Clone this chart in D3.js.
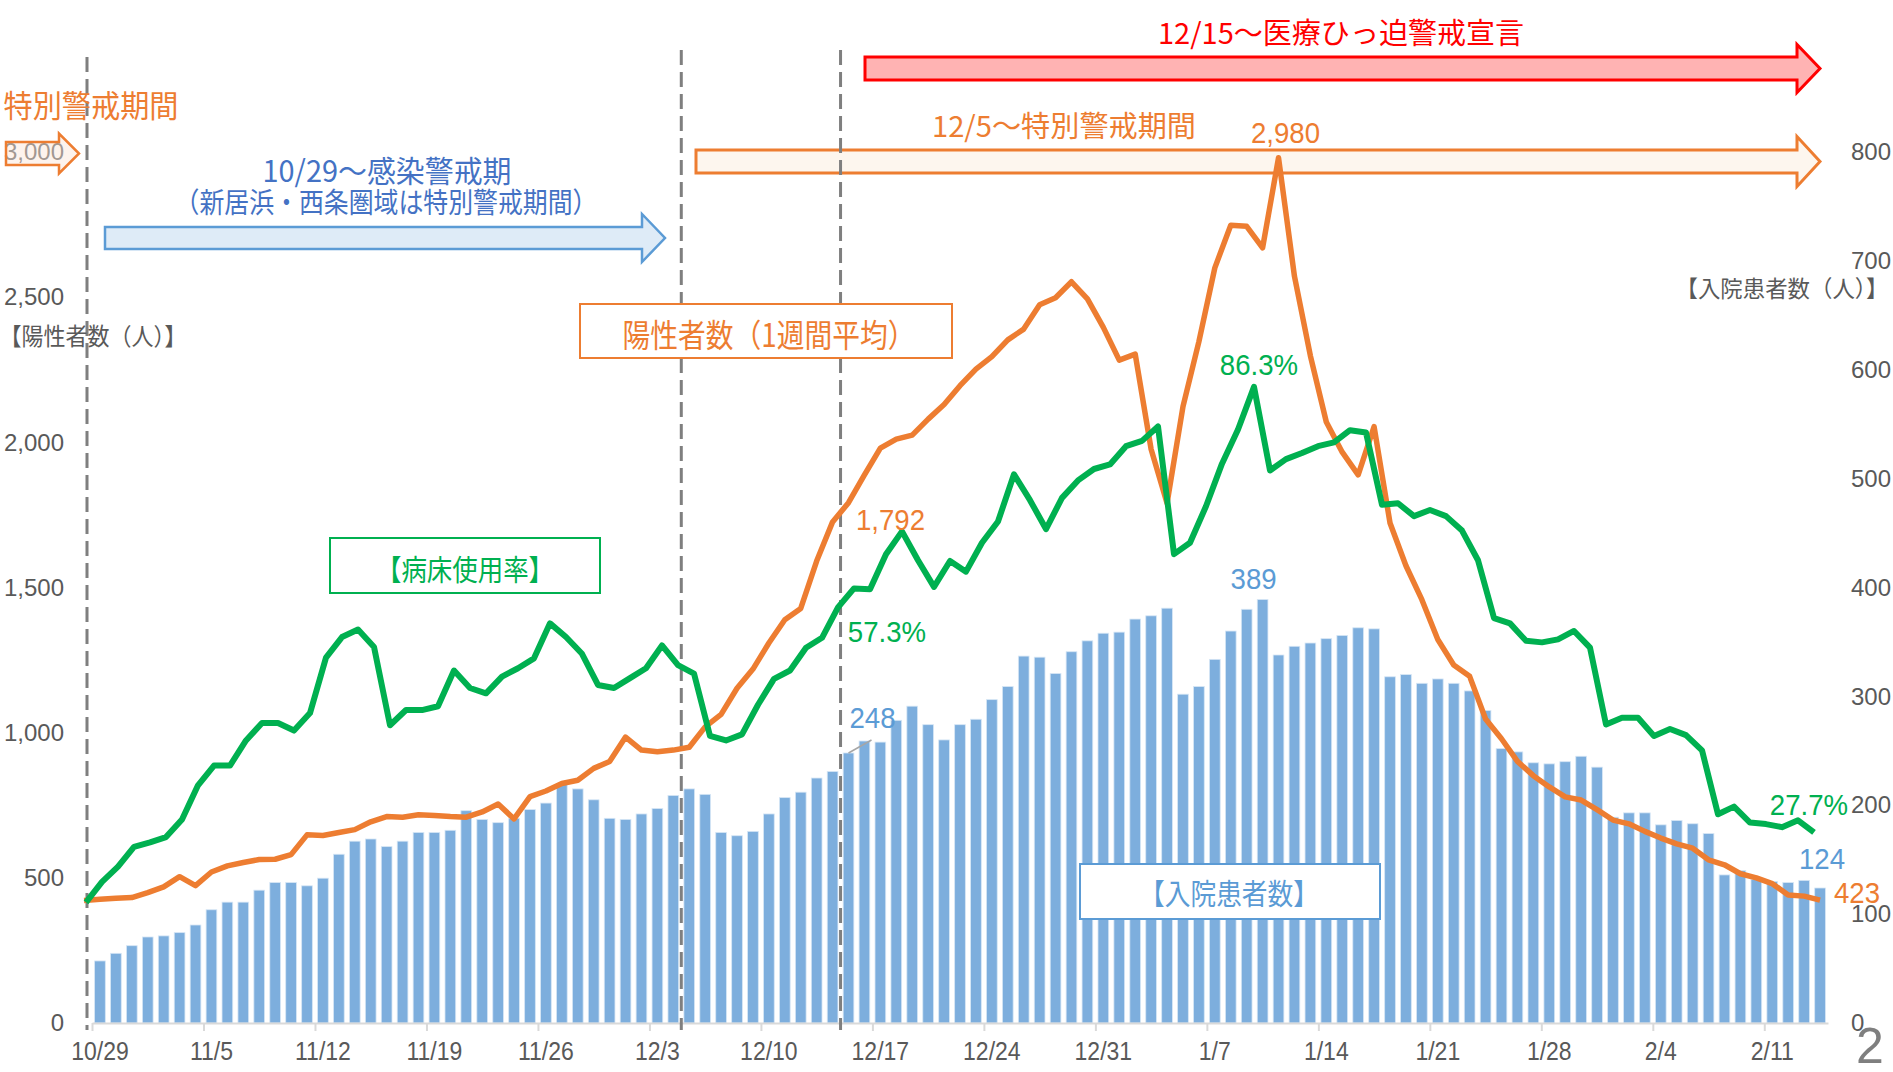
<!DOCTYPE html>
<html><head><meta charset="utf-8">
<title>陽性者数・入院患者数・病床使用率</title>
<script src="https://cdn.jsdelivr.net/npm/d3@7"></script>
<style>
  body { margin: 0; background: #fff; }
  svg { display: block; font-family: "Liberation Sans", "Noto Sans CJK JP", sans-serif; }
  .jp { font-family: "Noto Sans CJK JP", sans-serif; }
</style>
</head>
<body>
<svg id="chart" width="1893" height="1072"></svg>

<script>
// ---- data ----
var DAY = 864e5;
var firstDay = Date.UTC(2020, 9, 29);   // 10/29
var lastDay  = Date.UTC(2021, 1, 14);   // 2/14

var tickLabels = ["10/29","11/5","11/12","11/19","11/26","12/3","12/10","12/17",
                  "12/24","12/31","1/7","1/14","1/21","1/28","2/4","2/11"];

// 入院患者数 (right axis), 10/29 .. 2/14
var inpatients = [
  57, 64, 71, 79, 80, 83, 90, 104, 111, 111,
  122, 129, 129, 126, 133, 155, 167, 169, 162, 167,
  175, 175, 177, 195, 187, 184, 188, 196, 202, 219,
  215, 205, 188, 187, 192, 197, 209, 215, 210, 175,
  172, 176, 192, 207, 212, 225, 231, 248, 259, 258,
  278, 291, 274, 260, 274, 279, 297, 309, 337, 336,
  321, 341, 351, 358, 359, 371, 374, 381, 302, 309,
  334, 360, 380, 389, 338, 346, 349, 353, 356, 363,
  362, 318, 320, 312, 316, 312, 305, 287, 252, 249,
  239, 238, 240, 245, 235, 189, 193, 193, 182, 186,
  183, 174, 136, 140, 132, 130, 129, 131, 124
];

// 陽性者数（1週間平均） (left axis), 10/28 .. 2/14
var positives = [
  422, 426, 430, 432, 449, 469, 504, 473, 520, 541,
  553, 563, 564, 580, 648, 646, 656, 666, 693, 711,
  709, 717, 715, 711, 709, 727, 754, 703, 780, 799,
  825, 836, 877, 901, 985, 940, 934, 940, 950, 1020,
  1063, 1153, 1219, 1309, 1389, 1428, 1591, 1726, 1792, 1888,
  1980, 2011, 2025, 2080, 2130, 2195, 2252, 2295, 2353, 2390,
  2474, 2498, 2553, 2494, 2396, 2283, 2304, 1976, 1790, 2123,
  2347, 2601, 2748, 2744, 2670, 2980, 2572, 2298, 2070, 1966,
  1888, 2054, 1722, 1575, 1458, 1321, 1233, 1194, 1047, 979,
  901, 852, 813, 779, 768, 735, 699, 686, 660, 637,
  617, 602, 562, 545, 514, 500, 480, 441, 437, 423
];

// 病床使用率 (%), 10/29 .. 2/14
var bedRate = [
  18.5, 21.2, 23.2, 25.8, 26.4, 27.1, 29.4, 33.9, 36.5, 36.5,
  39.8, 42.1, 42.1, 41.1, 43.4, 50.7, 53.4, 54.4, 52.1, 41.8,
  43.8, 43.8, 44.3, 49.0, 46.7, 46.0, 48.2, 49.3, 50.6, 55.2,
  53.4, 51.2, 47.1, 46.7, 48.0, 49.3, 52.3, 49.7, 48.6, 40.4,
  39.8, 40.6, 44.5, 47.9, 49.0, 52.0, 53.3, 57.3, 59.8, 59.7,
  64.3, 67.3, 63.5, 60.0, 63.4, 62.0, 65.8, 68.6, 74.8, 71.4,
  67.6, 71.7, 74.0, 75.5, 76.1, 78.5, 79.2, 81.1, 64.3, 65.8,
  70.6, 76.2, 80.7, 86.3, 75.3, 76.8, 77.6, 78.5, 79.0, 80.6,
  80.3, 70.8, 71.0, 69.3, 70.1, 69.3, 67.4, 63.5, 55.9, 55.2,
  52.9, 52.7, 53.1, 54.2, 52.0, 41.9, 42.8, 42.8, 40.4, 41.3,
  40.5, 38.5, 30.1, 31.1, 29.0, 28.8, 28.4, 29.3, 27.7
];

var leftTicks  = [0, 500, 1000, 1500, 2000, 2500, 3000];
var rightTicks = [0, 100, 200, 300, 400, 500, 600, 700, 800];

// ---- layout ----
var plotLeft = 92, plotRight = 1828, plotTop = 152, plotBottom = 1023;
var svg = d3.select("#chart");

var days    = d3.utcDay.range(new Date(firstDay), new Date(lastDay + 1));
var posDays = d3.utcDay.range(new Date(firstDay - DAY), new Date(lastDay + 1));

var x = d3.scaleUtc()
  .domain([new Date(firstDay - DAY / 2), new Date(lastDay + DAY / 2)])
  .range([plotLeft, plotRight]);
var yL = d3.scaleLinear().domain([0, 3000]).range([plotBottom, plotTop]);
var yR = d3.scaleLinear().domain([0, 800]).range([plotBottom, plotTop]);
// 病床使用率 is a separate overlay with its own frame
var gx = d3.scaleUtc().domain([new Date(firstDay), new Date(lastDay)]).range([86, 1814]);
var gy = d3.scaleLinear().domain([0, 100]).range([1043.1, 282.7]);

var barW = 10.7;

function blockArrow(x0, xb, xt, yc, bh, hh) {
  var p = d3.path();
  p.moveTo(x0, yc - bh / 2);
  p.lineTo(xb, yc - bh / 2);
  p.lineTo(xb, yc - hh / 2);
  p.lineTo(xt, yc);
  p.lineTo(xb, yc + hh / 2);
  p.lineTo(xb, yc + bh / 2);
  p.lineTo(x0, yc + bh / 2);
  p.closePath();
  return p.toString();
}

function jtext(str, cx, cy, size, color, width) {
  return svg.append("text").attr("class", "jp")
    .attr("x", cx).attr("y", cy)
    .attr("text-anchor", "middle").attr("dominant-baseline", "central")
    .attr("font-size", size).attr("fill", color)
    .attr("textLength", width).attr("lengthAdjust", "spacingAndGlyphs")
    .text(str);
}

function squeeze(sel, k) {
  sel.each(function() {
    var w = this.getComputedTextLength();
    d3.select(this).attr("textLength", w * k).attr("lengthAdjust", "spacingAndGlyphs");
  });
}

// ---- axes ----
var yAxisL = svg.append("g").attr("transform", "translate(64,0)")
  .call(d3.axisLeft(yL).tickValues(leftTicks).tickFormat(d3.format(",")).tickSize(0).tickPadding(0));
var yAxisR = svg.append("g").attr("transform", "translate(1851,0)")
  .call(d3.axisRight(yR).tickValues(rightTicks).tickSize(0).tickPadding(0));
[yAxisL, yAxisR].forEach(function(a) {
  a.select(".domain").remove();
  a.selectAll("text").attr("fill", "#595959").attr("font-size", 24)
    .attr("font-family", "Liberation Sans, sans-serif");
});

// bars
svg.append("g").selectAll("rect").data(inpatients).join("rect")
  .attr("x", function(d, i) { return x(days[i]) - barW / 2; })
  .attr("width", barW)
  .attr("y", function(d) { return yR(d); })
  .attr("height", function(d) { return plotBottom - yR(d); })
  .attr("fill", "#7DAEDD")
  .attr("stroke", "#D6E6F5").attr("stroke-width", 0.8);

// x axis line and week tick marks
var weekStarts = tickLabels.map(function(t, j) { return new Date(+days[j * 7] - DAY / 2); });
var xAxis = svg.append("g").attr("transform", "translate(0," + plotBottom + ")")
  .call(d3.axisBottom(x).tickValues(weekStarts).tickFormat("").tickSize(8).tickSizeOuter(0));
xAxis.select(".domain").attr("stroke", "#D9D9D9").attr("stroke-width", 2);
xAxis.selectAll(".tick line").attr("stroke", "#D9D9D9").attr("stroke-width", 2);

var xl = svg.append("g").selectAll("text").data(tickLabels).join("text")
  .attr("x", function(d, j) { return x(days[j * 7]); })
  .attr("y", 1051)
  .attr("text-anchor", "middle").attr("dominant-baseline", "central")
  .attr("font-size", 25).attr("fill", "#595959")
  .text(function(d) { return d; });
squeeze(xl, 0.92);

// ---- period arrows ----
svg.append("path").attr("d", blockArrow(865, 1797, 1820, 68.5, 23, 48))
  .attr("fill", "#FFB3B3").attr("stroke", "#FF0000").attr("stroke-width", 3);
svg.append("path").attr("d", blockArrow(696, 1797, 1820, 161.5, 23, 50))
  .attr("fill", "#FDF6EE").attr("stroke", "#ED7D31").attr("stroke-width", 3);
svg.append("path").attr("d", blockArrow(105, 642, 665, 238, 22, 48))
  .attr("fill", "#DEEBF7").attr("stroke", "#5B9BD5").attr("stroke-width", 2.5);
svg.append("path").attr("d", blockArrow(6, 59, 79, 153.5, 23, 40))
  .attr("fill", "#FBE5D6").attr("fill-opacity", 0.45)
  .attr("stroke", "#ED7D31").attr("stroke-width", 2.5);

// ---- dashed period lines ----
var periodLines = [
  { d: new Date(firstDay - DAY / 2), y0: 57, dx: -5 },
  { d: new Date(Date.UTC(2020, 11, 5) - DAY / 2), y0: 50, dx: 0 },
  { d: new Date(Date.UTC(2020, 11, 15) - DAY / 2), y0: 50, dx: 0 }
];
svg.append("g").selectAll("line").data(periodLines).join("line")
  .attr("x1", function(d) { return x(d.d) + d.dx; })
  .attr("x2", function(d) { return x(d.d) + d.dx; })
  .attr("y1", function(d) { return d.y0; })
  .attr("y2", 1030)
  .attr("stroke", "#7F7F7F").attr("stroke-width", 3)
  .attr("stroke-dasharray", "15,7");

// ---- lines ----
svg.append("path").datum(positives)
  .attr("fill", "none").attr("stroke", "#ED7D31").attr("stroke-width", 5.5)
  .attr("stroke-linejoin", "round")
  .attr("d", d3.line().x(function(d, i) { return x(posDays[i]); }).y(function(d) { return yL(d); }));

svg.append("path").datum(bedRate)
  .attr("fill", "none").attr("stroke", "#00B050").attr("stroke-width", 6)
  .attr("stroke-linejoin", "round")
  .attr("d", d3.line().x(function(d, i) { return gx(days[i]); }).y(function(d) { return gy(d); }));

// ---- boxes ----
svg.append("rect").attr("x", 580).attr("y", 304).attr("width", 372).attr("height", 54)
  .attr("fill", "#fff").attr("stroke", "#ED7D31").attr("stroke-width", 2);
svg.append("rect").attr("x", 330).attr("y", 538).attr("width", 270).attr("height", 55)
  .attr("fill", "#fff").attr("stroke", "#00B050").attr("stroke-width", 2);
svg.append("rect").attr("x", 1080).attr("y", 864).attr("width", 300).attr("height", 55)
  .attr("fill", "#fff").attr("stroke", "#5B9BD5").attr("stroke-width", 2);

// ---- texts ----
jtext("12/15～医療ひっ迫警戒宣言", 1341, 31, 29, "#FF0000", 366);
jtext("12/5～特別警戒期間", 1064, 124, 29, "#ED7D31", 264);
jtext("特別警戒期間", 91, 103, 31, "#ED7D31", 175);
jtext("10/29～感染警戒期", 387, 169, 30, "#4472C4", 249);
jtext("（新居浜・西条圏域は特別警戒期間）", 386, 201, 28, "#4472C4", 423);
jtext("陽性者数（1週間平均）", 769, 333, 32, "#ED7D31", 293);
jtext("【病床使用率】", 465, 568, 29, "#00B050", 178);
jtext("【入院患者数】", 1229, 892, 29, "#5B9BD5", 180);
jtext("【陽性者数（人）】", 93, 334, 24, "#595959", 187);
jtext("【入院患者数（人）】", 1782, 287, 23, "#595959", 213);

// ---- data labels ----
function dataLabel(str, px, py, dx, dy, color) {
  return svg.append("text").attr("x", px + dx).attr("y", py + dy)
    .attr("text-anchor", "middle").attr("dominant-baseline", "central")
    .attr("font-size", 30).attr("fill", color).text(str);
}
var fmt = d3.format(",");
var iPeak = positives.indexOf(d3.max(positives));
var labels = [];
labels.push(dataLabel(fmt(positives[iPeak]), x(posDays[iPeak]), yL(positives[iPeak]), 7, -25, "#ED7D31"));
labels.push(dataLabel(fmt(positives[48]), x(posDays[48]), yL(positives[48]), 42, 17, "#ED7D31"));
labels.push(dataLabel(fmt(positives[109]), x(posDays[109]), yL(positives[109]), 37, -8, "#ED7D31"));
labels.push(dataLabel(bedRate[73].toFixed(1) + "%", gx(days[73]), gy(bedRate[73]), 5, -22, "#00B050"));
labels.push(dataLabel(bedRate[47].toFixed(1) + "%", gx(days[47]), gy(bedRate[47]), 49, 24, "#00B050"));
labels.push(dataLabel(bedRate[108].toFixed(1) + "%", gx(days[108]), gy(bedRate[108]), -5, -28, "#00B050"));
labels.push(dataLabel(inpatients[73], x(days[73]), yR(inpatients[73]), -9, -21, "#5B9BD5"));
labels.push(dataLabel(inpatients[47], x(days[47]), yR(inpatients[47]), 24, -35, "#5B9BD5"));
labels.push(dataLabel(inpatients[108], x(days[108]), yR(inpatients[108]), 2, -29, "#5B9BD5"));
labels.forEach(function(l) { squeeze(l, 0.92); });

// leader line for 248
svg.append("line")
  .attr("x1", x(days[47])).attr("y1", yR(inpatients[47]))
  .attr("x2", x(days[47]) + 23).attr("y2", yR(inpatients[47]) - 13)
  .attr("stroke", "#A6A6A6").attr("stroke-width", 1.5);

// page number
svg.append("text").attr("x", 1870).attr("y", 1063).attr("text-anchor", "middle")
  .attr("font-size", 50).attr("fill", "#7F7F7F").text("2");
</script>
</body>
</html>
